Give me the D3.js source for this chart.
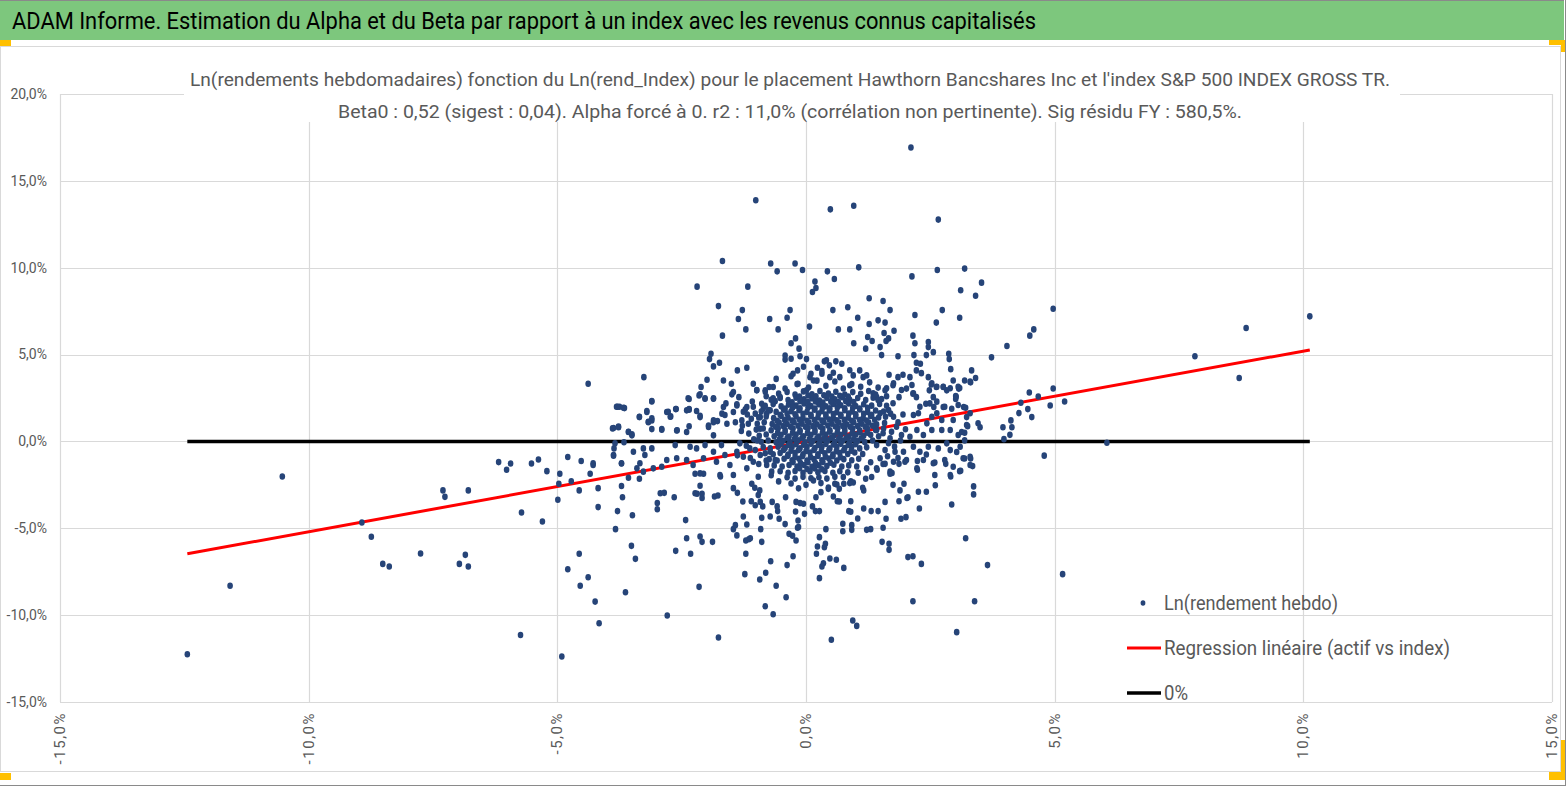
<!DOCTYPE html>
<html>
<head>
<meta charset="utf-8">
<script src="https://cdn.jsdelivr.net/npm/d3@7"></script>
<style>
html, body { margin: 0; padding: 0; background: #fff; overflow: hidden; }
text { font-family: "Liberation Sans Narrow", "Arial Narrow", "Roboto", sans-serif; }
</style>
</head>
<body>
<div id="chart"></div>
<script>
'use strict';

var titleText = 'ADAM Informe. Estimation du Alpha et du Beta par rapport à un index avec les revenus connus capitalisés';
var subtitleLines = [
  "Ln(rendements hebdomadaires) fonction du Ln(rend_Index) pour le placement Hawthorn Bancshares Inc et l'index S&P 500 INDEX GROSS TR.",
  'Beta0 : 0,52 (sigest : 0,04). Alpha forcé à 0. r2 : 11,0% (corrélation non pertinente). Sig résidu FY : 580,5%.'
];
var legendLabels = ['Ln(rendement hebdo)', 'Regression linéaire (actif vs index)', '0%'];
var beta = 0.52;
var xTicks = [-0.15, -0.10, -0.05, 0, 0.05, 0.10, 0.15];
var yTicks = [-0.15, -0.10, -0.05, 0, 0.05, 0.10, 0.15, 0.20];

// weekly log returns, [index %, asset %]
var tailPoints = [
  [-10.53,-2.02],[-11.58,-8.31],[-12.44,-12.25],[-8.93,-4.67],[-8.74,-5.49],[-8.51,-7.05],[-8.38,-7.20],[-7.75,-6.45],
  [-7.30,-2.82],[-7.26,-3.19],[-6.79,-2.82],[-6.97,-7.05],[-6.85,-6.53],[-6.79,-7.20],[-6.18,-1.19],[-6.02,-1.63],
  [-5.94,-1.27],[-5.52,-1.27],[-5.38,-1.04],[-5.21,-1.71],[-5.72,-4.09],[-5.30,-4.61],[-4.95,-1.86],[-4.97,-2.44],
  [-4.99,-3.36],[-4.79,-0.90],[-4.79,-7.36],[-5.74,-11.14],[-4.91,-12.38],
  [3.19,9.95],[3.11,8.70],[3.53,9.14],[3.41,8.39],[3.09,7.12],[4.97,7.64],[4.04,5.49],[4.50,6.09],[4.58,6.45],
  [3.73,4.84],[3.33,4.09],[3.19,3.51],[3.31,3.40],[3.41,3.65],[3.09,3.07],[7.82,4.90],[8.85,6.53],[10.13,7.20],
  [8.71,3.65],[6.05,-0.08],[4.49,2.82],[4.97,3.05],[4.67,2.59],[4.32,2.23],[5.20,2.30],[4.91,2.07],[4.46,1.86],
  [4.28,1.63],[4.54,1.40],[4.12,1.21],[4.14,0.82],[3.96,0.82],[4.10,0.38],[3.98,0.13],[4.79,-0.82],[3.46,1.05],
  [3.50,0.82],[3.25,0.88],[3.23,1.40],[3.17,1.98],[3.21,1.94],[3.13,0.54],[3.19,0.50],[3.19,0.06],[3.19,-0.98],
  [3.31,-0.98],[3.35,-1.42],[3.11,-1.69],[3.37,-2.59],[3.37,-3.05],[3.21,-5.57],[3.65,-7.12],[5.16,-7.64],[3.39,-9.20]
];

var lowerPoints = [
  [-4.52,-1.13],[-4.28,-1.36],[-4.34,-1.86],[-4.72,-2.29],[-4.56,-2.82],[-4.18,-2.69],[-4.18,-3.78],[-3.87,-0.82],
  [-3.71,-1.27],[-3.71,-2.57],[-3.69,-3.21],[-3.79,-4.01],[-3.83,-5.05],[-3.49,-4.25],[-3.57,-2.09],[-3.35,-2.15],
  [-3.51,-6.01],[-3.43,-6.76],[-4.56,-6.47],[-4.38,-7.82],[-4.54,-8.31],[-4.24,-9.22],[-4.16,-10.47],[-3.63,-8.68],
  [-2.79,-10.02],[-1.76,-11.29],[-2.15,-8.37],[-2.62,-6.30],[-2.32,-6.47],[-2.40,-5.57],[-2.13,-5.47],[-2.09,-5.78],
  [-1.88,-5.78],[-2.42,-4.53],[-2.99,-3.55],[-2.99,-3.90],[-2.93,-2.98],[-2.85,-2.96],[-2.65,-3.21],[-2.23,-2.98],
  [-2.19,-3.01],[-2.09,-3.26],[-2.09,-3.01],[-1.84,-3.17],[-1.77,-3.11],[-2.13,-2.55],[-2.23,-1.86],[-2.06,-1.86],
  [-1.72,-2.02],[-1.46,-2.69],[-1.38,-2.96],[-1.27,-3.46],[-1.46,-5.05],[-1.42,-4.82],[-1.39,-5.41],[-1.26,-4.32],
  [-1.19,-4.78],[-1.21,-5.70],[-1.21,-6.47],[-1.15,-5.63],[-1.12,-5.57],[-1.23,-7.64],[-0.93,-7.95],[-0.81,-7.56],
  [-0.82,-9.49],[-0.66,-9.95],[-0.71,-6.90],[-0.60,-8.31],[-0.40,-8.97],[-0.38,-7.12],[-0.26,-6.61],[-0.89,-5.78],
  [-0.91,-5.05],[-0.89,-4.40],[-0.72,-4.32],[-0.54,-4.45],[-0.42,-4.76],[-0.34,-5.32],[-0.27,-5.43],[-0.20,-5.70],
  [-0.17,-4.97],[-0.15,-4.93],[-0.16,-4.55],[-0.21,-4.03],[-0.03,-4.17],[-0.57,-4.01],[-0.68,-3.48],[-0.58,-3.74],
  [-1.02,-3.67],[-0.92,-3.48],[-0.87,-3.74],[-1.10,-3.44],[-0.96,-3.09],[-0.93,-2.82],[-1.03,-2.67],[-1.09,-2.44],
  [-0.41,-3.21],[-0.20,-3.48],[-0.12,-3.55],[-0.05,-3.59],[0.13,-3.74],[0.19,-4.01],[0.27,-4.01],[0.20,-3.21],
  [0.30,-2.92],[0.45,-2.73],[0.27,-5.51],[0.23,-6.05],[0.40,-5.05],[0.39,-5.89],[0.37,-6.09],[0.21,-6.47],
  [0.48,-6.74],[0.61,-6.81],[0.35,-7.01],[0.32,-7.20],[0.27,-7.87],[0.76,-7.28],[0.51,-11.42],[0.94,-10.31],
  [1.02,-10.62],[0.55,-3.17],[0.63,-3.44],[0.67,-3.46],[0.74,-4.74],[0.74,-5.17],[0.86,-4.01],[0.90,-4.05],
  [0.90,-3.44],[0.92,-5.09],[0.92,-4.82],[1.04,-4.44],[1.16,-3.86],[1.22,-5.09],[1.30,-5.05],[1.31,-4.01],
  [1.45,-4.01],[1.55,-4.97],[1.53,-5.78],[1.59,-3.48],[1.61,-4.45],[1.67,-5.89],[1.67,-6.24],[1.91,-4.45],
  [2.01,-4.36],[1.87,-3.44],[2.03,-3.26],[2.28,-3.86],[2.05,-6.66],[2.15,-6.61],[2.32,-7.05],[2.15,-9.20],
  [2.26,-2.90],[2.42,-2.90],[2.60,-2.52],[2.93,-3.63],[3.03,-10.98],[2.91,-2.02],[3.09,-1.71],[2.81,-1.29],
  [3.03,-0.61],[2.59,-1.21],[2.42,-0.75],[2.24,-1.63],[2.24,-1.13],[1.99,-1.17],[1.87,-1.29],[1.75,-2.50],
  [1.89,-2.82],[1.97,-2.44],[2.05,-3.21],[1.73,-1.82],[1.69,-1.86],[1.59,-1.29],[1.43,-1.63],[1.32,-2.05],
  [1.16,-2.82],[1.14,-2.67],[0.88,-2.40],[0.95,-2.36],[0.76,-2.44],[0.58,-2.44],[0.67,-2.73]
];

var upperPoints = [
  [2.11,16.92],[-1.01,13.88],[0.49,13.36],[0.96,13.57],[2.66,12.77],[-1.68,10.39],[-2.19,8.91],[-1.17,8.91],
  [-0.71,10.24],[-0.58,9.79],[-0.22,10.24],[-0.07,9.87],[0.43,9.79],[0.57,9.35],[1.06,10.02],[2.13,9.50],
  [2.64,9.87],[0.18,9.20],[0.20,8.83],[0.13,8.60],[-1.76,7.79],[-1.28,7.56],[-1.36,7.05],[-1.21,6.45],
  [-1.68,6.09],[-0.32,7.56],[-0.38,7.12],[-0.73,7.05],[-0.56,6.45],[0.07,6.61],[-0.30,5.65],[-0.21,5.93],
  [-0.14,5.34],[0.54,7.56],[0.84,7.72],[1.04,7.12],[0.65,6.45],[0.88,6.45],[0.96,5.65],[1.27,8.24],
  [1.55,8.08],[1.69,7.56],[1.45,6.97],[1.59,6.84],[1.27,6.76],[1.77,6.37],[1.57,6.24],[1.24,6.01],
  [1.33,5.78],[1.66,5.93],[1.61,5.78],[1.20,5.34],[1.49,5.43],[1.52,4.97],[1.85,4.90],[2.19,7.28],
  [2.74,7.56],[2.62,6.84],[2.15,6.09],[2.19,5.65],[2.46,5.72],[2.46,5.43],[2.17,4.97],[2.42,4.97],
  [2.56,5.14],[2.87,5.05],[2.88,4.74],[2.91,4.16],[2.22,4.53],[2.30,4.47],[2.22,4.09],[2.32,3.93],
  [2.46,3.70],[2.09,3.70],[1.95,3.84],[1.85,3.70],[1.67,3.84],[2.52,3.28],[2.62,3.13],[2.76,3.13],
  [2.96,3.51],[3.07,3.04],[2.83,2.94],[3.01,2.61],[3.01,2.44],[2.56,2.55],[2.41,2.17],[2.57,1.98],
  [2.76,1.98],[2.93,1.88],[2.48,2.94],[2.15,2.75],[2.22,2.55],[2.02,3.04],[1.75,3.23],[1.59,2.94],
  [1.42,2.55],[1.87,2.55],[1.08,4.09],[1.15,3.70],[0.95,3.80],[0.88,3.23],[0.72,4.47],[0.60,4.61],
  [0.41,4.67],[0.47,4.38],[0.37,4.61],[0.23,4.24],[0.32,3.90],[0.48,3.70],[0.68,3.70],[0.08,3.70],
  [0.01,4.74],[-0.12,4.90],[-0.17,4.09],[-0.26,3.90],[-0.42,4.71],[-0.42,4.95],[-0.30,4.76],[-0.16,3.32],
  [0.01,2.94],[0.15,3.51],[-0.66,3.13],[-0.82,2.94],[-0.74,3.13],[-1.06,3.32],[-0.99,2.94],[-1.19,4.24],
  [-1.38,4.09],[-1.46,2.84],[-1.50,3.32],[-1.66,3.51],[-1.74,4.53],[-1.86,4.32],[-1.91,5.05],[-1.94,4.74],
  [-1.99,3.55],[-2.11,3.13],[-2.15,2.65],[-2.03,2.46],[-1.86,2.46],[-2.35,2.44],[-2.35,1.83],[-2.40,1.79],
  [-2.62,1.86],[-2.80,1.69],[-2.72,1.44],[-3.10,2.30],[-3.26,3.70],[-3.20,1.69],[-3.35,1.40],[-3.17,1.11],
  [-3.10,1.21],[-3.65,1.92],[-3.79,2.00],[-3.75,2.00],[-3.87,0.77],[-3.77,0.82],[-3.57,0.54],[-3.50,0.35],
  [-4.38,3.32],[-2.90,0.67],[-2.60,0.63],[-2.40,0.54],[-2.13,1.40],[-1.96,0.92],[-1.86,1.21],[-1.66,1.98],
  [-1.69,1.60],[-1.46,1.69],[-1.39,2.07],[-1.19,1.98],[-1.29,1.21],[-1.16,1.02],[-1.02,1.60],[-0.89,2.17],
  [-0.92,0.73],[-0.86,1.88],[-0.79,1.60],[-0.72,1.79],[-0.52,2.55],[-0.62,2.32],[-1.59,1.02],[-1.86,0.35]
];

var leftPoints = [
  [-3.81,2.00],[-3.67,1.94],[-3.10,2.33],[-3.20,1.75],[-3.35,1.42],[-3.10,1.33],[-3.17,1.13],[-2.77,1.71],
  [-2.61,1.87],[-2.73,1.42],[-2.37,2.48],[-2.35,1.87],[-2.20,1.75],[-2.13,1.48],[-2.03,2.48],[-1.86,2.48],
  [-2.13,2.71],[-3.89,0.75],[-3.77,0.85],[-3.57,0.56],[-3.50,0.41],[-3.10,0.71],[-2.90,0.71],[-2.59,0.64],
  [-2.35,0.87],[-1.96,0.83],[-1.86,1.10],[-1.78,1.17],[-1.63,1.52],[-1.61,2.19],[-1.39,2.14],[-1.26,1.71],
  [-1.06,2.00],[-1.49,2.71],[-0.99,2.96],[-0.82,2.86],[-0.66,2.48],
  [-3.84,-0.11],[-3.86,-0.40],[-3.66,-0.05],[-3.87,-0.78],[-3.71,-1.26],[-3.47,-0.59],[-3.27,-0.40],[-3.24,-0.78],
  [-3.10,-0.40],[-3.34,-1.26],[-3.40,-1.55],[-3.27,-1.74],[-3.07,-1.55],[-2.90,-1.46],[-2.80,-1.07],[-2.63,-0.21],
  [-2.60,-0.97],[-2.40,-1.07],[-2.33,-0.31],[-2.20,-0.40],[-2.27,-1.36],[-2.13,-1.84],[-2.06,-0.97],[-2.03,-0.21],
  [-1.86,-0.59],[-1.80,-1.17],[-1.70,-0.21],[-1.63,-0.78],[-1.73,-1.93],[-1.53,-1.36],[-1.46,-1.93],[-1.39,-0.59],
  [-1.26,-0.88],[-1.33,-0.11],[-1.19,-1.55],[-1.06,-1.17],[-1.13,-0.40],[-0.92,-0.78],[-0.96,-2.03],[-0.79,-1.36],
  [-0.69,-1.74],[-0.72,-0.59],[-0.62,-1.07],[-4.28,-1.26]
];

var rightPoints = [
  [1.62,3.06],[1.76,3.34],[1.92,2.96],[2.13,3.25],[2.16,2.77],[2.53,3.34],[2.63,3.15],[2.76,3.15],
  [2.90,3.06],[3.06,3.15],[3.02,2.57],[3.30,3.44],[2.49,2.19],[2.63,2.29],[2.79,2.00],[3.06,2.10],
  [2.29,2.00],[2.26,1.62],[2.16,1.52],[2.53,1.42],[2.63,1.62],[2.73,1.23],[2.96,1.23],[3.30,1.62],
  [3.23,0.94],[2.90,0.66],[3.06,0.37],[2.73,0.66],[2.53,0.66],[2.43,1.04],[2.36,0.37],[2.23,0.66],
  [2.09,0.27],[1.92,0.37],[1.82,0.85],[1.76,1.42],[1.66,1.81],[1.49,1.62],[1.45,2.38],[1.35,2.77],
  [1.42,0.66],[1.55,0.47],[1.69,0.18],
  [1.42,-0.21],[1.59,-0.50],[1.79,-0.59],[1.96,-0.59],[2.16,-0.31],[2.29,-0.59],[2.46,-0.31],[2.66,-0.40],
  [2.90,-0.50],[3.10,-0.31],[3.30,-0.88],[3.16,-0.97],[2.79,-1.07],[2.96,-1.46],[2.56,-1.26],[2.36,-1.07],
  [2.23,-1.55],[2.02,-1.07],[1.76,-1.17],[1.49,-0.97],[1.42,-1.55],[1.69,-1.74],[2.90,-1.93],[3.30,-1.36],
  [2.59,-1.93],[2.83,-0.11]
];

var corePoints = [
  [-0.42,3.05],[-0.18,3.30],[0.05,3.10],[0.22,3.50],[0.40,3.20],[0.58,3.45],[0.75,3.05],[0.92,3.30],[1.10,3.15],
  [1.28,3.40],[1.45,3.10],[-0.60,3.60],[-0.30,3.75],[0.10,3.90],[0.55,3.95],[0.88,4.10],[1.22,3.80],[-0.05,4.30],[0.32,4.05],
  [-0.38,2.85],[-0.22,2.70],[-0.05,2.88],[0.12,2.72],[0.28,2.90],[0.45,2.76],[0.60,2.86],[0.78,2.70],
  [0.94,2.84],[1.10,2.74],[1.26,2.90],
  [-0.70,2.40],[-0.52,2.50],[-0.36,2.38],[-0.20,2.52],[-0.04,2.42],[0.12,2.48],[0.27,2.36],[0.42,2.50],[0.58,2.42],
  [0.73,2.55],[0.88,2.40],[1.04,2.50],[1.20,2.38],[1.35,2.52],
  [-0.66,2.15],[-0.50,2.02],[-0.35,2.12],[-0.20,2.06],[-0.04,2.18],[0.10,2.04],[0.26,2.14],[0.40,2.02],
  [0.55,2.16],[0.70,2.08],[0.86,2.18],[1.00,2.04],[1.16,2.14],[1.32,2.06],[1.48,2.16],
  [-0.90,1.72],[-0.75,1.80],[-0.60,1.70],[-0.45,1.82],[-0.30,1.74],[-0.14,1.80],[0.02,1.70],[0.17,1.82],[0.32,1.74],
  [0.47,1.78],[0.62,1.68],[0.78,1.80],[0.93,1.72],[1.08,1.84],[1.24,1.70],[1.40,1.78],
  [-0.80,1.44],[-0.65,1.34],[-0.50,1.46],[-0.36,1.36],[-0.20,1.44],[-0.06,1.35],[0.10,1.45],[0.24,1.38],
  [0.40,1.42],[0.55,1.33],[0.70,1.46],[0.85,1.37],[1.00,1.44],[1.15,1.34],[1.30,1.46],[1.46,1.38],[1.60,1.42],
  [-0.98,1.02],[-0.84,1.10],[-0.68,1.00],[-0.54,1.08],[-0.38,1.00],[-0.24,1.10],[-0.08,1.02],[0.06,1.08],[0.22,0.98],
  [0.36,1.10],[0.52,1.02],[0.66,1.08],[0.82,0.98],[0.96,1.10],[1.12,1.02],[1.26,1.08],[1.42,0.98],
  [-0.86,0.74],[-0.70,0.64],[-0.56,0.75],[-0.42,0.66],[-0.26,0.74],[-0.12,0.64],[0.04,0.76],[0.18,0.66],
  [0.34,0.72],[0.48,0.64],[0.64,0.76],[0.78,0.68],[0.94,0.74],[1.08,0.64],[1.24,0.72],[1.40,0.66],[1.56,0.74],
  [-0.94,0.32],[-0.80,0.40],[-0.64,0.30],[-0.50,0.38],[-0.34,0.28],[-0.20,0.40],[-0.05,0.30],[0.10,0.38],[0.26,0.28],
  [0.40,0.40],[0.56,0.32],[0.70,0.38],[0.86,0.28],[1.00,0.40],[1.16,0.32],[1.30,0.38],
  [-0.76,0.05],[-0.60,-0.05],[-0.46,0.04],[-0.32,-0.04],[-0.16,0.06],[-0.02,-0.05],[0.14,0.04],
  [0.28,-0.04],[0.44,0.06],[0.58,-0.03],[0.74,0.05],[0.88,-0.05],[1.04,0.04],[1.18,-0.04],[1.34,0.05],
  [-0.86,-0.32],[-0.72,-0.40],[-0.56,-0.30],[-0.42,-0.38],[-0.28,-0.30],[-0.12,-0.40],[0.02,-0.32],[0.18,-0.38],
  [0.32,-0.30],[0.48,-0.40],[0.62,-0.32],[0.78,-0.38],[0.92,-0.30],[1.08,-0.40],
  [-0.66,-0.74],[-0.52,-0.66],[-0.36,-0.76],[-0.22,-0.66],[-0.06,-0.74],[0.08,-0.64],[0.24,-0.74],
  [0.38,-0.68],[0.54,-0.76],[0.68,-0.66],[0.84,-0.72],[0.98,-0.64],[1.14,-0.72],
  [-0.74,-1.02],[-0.58,-1.10],[-0.44,-1.00],[-0.28,-1.08],[-0.14,-1.00],[0.02,-1.10],[0.16,-1.02],[0.32,-1.08],
  [0.46,-0.98],[0.62,-1.10],[0.76,-1.02],[0.92,-1.08],
  [-0.48,-1.44],[-0.34,-1.36],[-0.18,-1.44],[-0.04,-1.36],[0.12,-1.46],[0.26,-1.38],[0.42,-1.42],
  [0.56,-1.34],[0.72,-1.44],[0.86,-1.38],[1.02,-1.44],
  [-0.52,-1.72],[-0.36,-1.80],[-0.22,-1.70],[-0.06,-1.80],[0.08,-1.72],[0.24,-1.78],[0.38,-1.70],[0.54,-1.80],
  [0.68,-1.72],
  [-0.22,-2.14],[-0.06,-2.04],[0.10,-2.12],[0.26,-2.06],[0.42,-2.14],[0.58,-2.04],
  [-0.30,-2.42],[0.00,-2.50],[0.30,-2.40],[0.62,-2.48],[0.90,-2.30]
];

// the solid middle of the cloud, between the rows above
var coreFillPoints = [
  [-0.13,2.58],[0.04,2.64],[0.20,2.60],[0.36,2.66],[0.52,2.59],[0.68,2.63],[0.85,2.58],
  [-0.28,2.25],[-0.12,2.31],[0.04,2.27],[0.19,2.30],[0.34,2.24],[0.50,2.29],[0.65,2.26],[0.80,2.32],[0.96,2.27],
  [-0.42,1.89],[-0.27,1.94],[-0.12,1.90],[0.04,1.95],[0.18,1.89],[0.33,1.93],[0.48,1.90],[0.63,1.96],[0.78,1.91],
  [0.94,1.94],[1.08,1.89],[1.24,1.93],
  [-0.52,1.54],[-0.38,1.60],[-0.22,1.56],[-0.06,1.59],[0.10,1.54],[0.25,1.60],[0.40,1.55],[0.55,1.58],[0.70,1.54],
  [0.86,1.60],[1.00,1.56],[1.16,1.59],[1.32,1.54],
  [-0.58,1.19],[-0.43,1.24],[-0.28,1.20],[-0.13,1.25],[0.02,1.19],[0.17,1.23],[0.32,1.20],[0.47,1.26],[0.62,1.21],
  [0.77,1.24],[0.92,1.19],[1.08,1.23],[1.22,1.20],[1.38,1.25],
  [-0.61,0.84],[-0.46,0.89],[-0.31,0.85],[-0.16,0.90],[-0.01,0.84],[0.14,0.88],[0.29,0.85],[0.44,0.91],[0.59,0.86],
  [0.74,0.89],[0.89,0.84],[1.04,0.88],[1.19,0.85],[1.34,0.90],
  [-0.57,0.49],[-0.42,0.54],[-0.27,0.50],[-0.12,0.55],[0.03,0.49],[0.18,0.53],[0.33,0.50],[0.48,0.56],[0.63,0.51],
  [0.78,0.54],[0.93,0.49],[1.08,0.53],[1.23,0.50],
  [-0.53,0.14],[-0.38,0.19],[-0.23,0.15],[-0.08,0.20],[0.07,0.14],[0.22,0.18],[0.36,0.15],[0.51,0.21],[0.66,0.16],
  [0.81,0.19],[0.96,0.14],[1.11,0.18],
  [-0.50,-0.14],[-0.35,-0.20],[-0.20,-0.16],[-0.05,-0.19],[0.10,-0.14],[0.25,-0.20],[0.40,-0.15],[0.55,-0.18],
  [0.70,-0.14],[0.85,-0.20],[1.00,-0.16],
  [-0.45,-0.49],[-0.30,-0.54],[-0.15,-0.50],[0.00,-0.55],[0.16,-0.49],[0.31,-0.53],[0.46,-0.50],[0.61,-0.56],
  [0.76,-0.51],[0.91,-0.54],
  [-0.37,-0.84],[-0.22,-0.89],[-0.07,-0.85],[0.09,-0.90],[0.24,-0.84],[0.39,-0.88],[0.54,-0.85],[0.69,-0.91],
  [-0.26,-1.19],[-0.11,-1.24],[0.04,-1.20],[0.19,-1.25],[0.34,-1.19],[0.49,-1.23],
  [-0.13,-1.54],[0.02,-1.59],[0.17,-1.55],[0.32,-1.60]
];

// thinner fringe round the middle of the cloud
var fringePoints = [
  [-1.22,1.85],[-1.10,1.30],[-1.28,0.90],[-1.15,0.45],[-1.05,0.12],[-1.20,-0.25],[-1.02,-0.50],[-1.12,-0.95],
  [-0.95,-1.30],[-1.30,0.60],[-1.08,2.30],[-1.18,1.55],[-0.98,0.05],[-0.92,1.40],[-0.80,-1.10],
  [1.75,2.20],[1.70,1.60],[1.85,1.10],[1.72,0.55],[1.90,0.05],[1.78,-0.30],[1.64,-0.85],[1.85,-0.95],
  [1.55,-1.30],[1.95,1.55],[1.62,2.60],[2.00,0.70],[1.66,-0.10],[1.58,1.06],[1.46,0.30],[1.56,1.72],
  [1.62,2.05],[1.52,2.44],[1.40,2.70],[1.22,-0.34],[1.06,-1.00],
  [-0.55,-2.30],[-0.15,-2.70],[0.15,-2.25],[0.45,-2.65],[0.75,-2.05],[1.05,-1.80],[1.20,-2.15],[-0.70,-1.95],
  [1.30,-1.20],[1.22,-1.55],[-0.38,-2.06],[0.84,-1.78],[-0.64,-1.38],[-0.82,-0.68],[-0.90,-0.02],
  [-1.00,0.68],[-0.95,1.38],[-0.82,2.05],[-0.55,2.75],[-0.80,2.60],[-1.35,2.55],[-1.42,1.10],[-1.38,-0.80]
];

var points = [].concat(tailPoints, lowerPoints, upperPoints, leftPoints, rightPoints, corePoints, coreFillPoints, fringePoints)
  .map(function (p) { return { x: p[0] / 100, y: p[1] / 100 }; });

var width = 1567;
var height = 787;
var plot = { left: 60, right: 1552, top: 94, bottom: 702 };
var dotColor = '#264478';
var textColor = '#595959';
var gridColor = '#d9d9d9';

var fr = d3.formatLocale({ decimal: ',', thousands: ' ', grouping: [3], currency: ['', ' €'], minus: '-' });
var pct = fr.format('.1%');

var x = d3.scaleLinear().domain([-0.15, 0.15]).range([plot.left, plot.right]);
var y = d3.scaleLinear().domain([-0.15, 0.20]).range([plot.bottom, plot.top]);

var svg = d3.select('#chart').append('svg').attr('width', width).attr('height', height);

svg.append('rect').attr('width', width).attr('height', height).attr('fill', '#fff');

// header band
svg.append('rect').attr('x', 0).attr('y', 0).attr('width', 1564).attr('height', 40).attr('fill', '#7dc77d');
svg.append('line').attr('x1', 0).attr('x2', 1564).attr('y1', 0.5).attr('y2', 0.5).attr('stroke', '#8a8a8a');
svg.append('text').attr('x', 12).attr('y', 29).attr('font-size', 24).attr('fill', '#000')
  .attr('textLength', 1024).attr('lengthAdjust', 'spacingAndGlyphs').text(titleText);

// chart frame
svg.append('rect').attr('x', 0.5).attr('y', 46.5).attr('width', 1560).attr('height', 725)
  .attr('fill', 'none').attr('stroke', '#d9d9d9');
svg.append('line').attr('x1', 0).attr('x2', 1566).attr('y1', 785.5).attr('y2', 785.5).attr('stroke', '#8a8a8a');
svg.append('line').attr('x1', 1565.5).attr('x2', 1565.5).attr('y1', 0).attr('y2', 786).attr('stroke', '#8a8a8a');

// grid
var g = svg.append('g');
g.selectAll('line.vg').data(xTicks).enter().append('line').attr('class', 'vg')
  .attr('x1', function (d) { return Math.round(x(d)) + 0.5; })
  .attr('x2', function (d) { return Math.round(x(d)) + 0.5; })
  .attr('y1', plot.top).attr('y2', plot.bottom).attr('stroke', gridColor).attr('stroke-width', 1.2);
g.selectAll('line.hg').data(yTicks).enter().append('line').attr('class', 'hg')
  .attr('y1', function (d) { return Math.round(y(d)) + 0.5; })
  .attr('y2', function (d) { return Math.round(y(d)) + 0.5; })
  .attr('x1', plot.left).attr('x2', plot.right).attr('stroke', gridColor).attr('stroke-width', 1.2);

// y tick labels
g.selectAll('text.yl').data(yTicks).enter().append('text').attr('class', 'yl')
  .attr('x', 47).attr('y', function (d) { return y(d); }).attr('dy', '0.35em')
  .attr('text-anchor', 'end').attr('font-size', 14).attr('fill', textColor).text(function (d) { return pct(d); });

// x tick labels, rotated
g.selectAll('text.xl').data(xTicks).enter().append('text').attr('class', 'xl')
  .attr('transform', function (d) { return 'translate(' + (x(d) + 5) + ',712) rotate(-90)'; })
  .attr('text-anchor', 'end').attr('font-size', 15).attr('letter-spacing', 1.5)
  .attr('fill', textColor).text(function (d) { return pct(d); });

// subtitle box
svg.append('rect').attr('x', 184).attr('y', 62).attr('width', 1216).attr('height', 60).attr('fill', '#fff');
svg.selectAll('text.sub').data(subtitleLines).enter().append('text').attr('class', 'sub')
  .attr('x', 790).attr('y', function (d, i) { return 86 + i * 32; })
  .attr('text-anchor', 'middle').attr('font-size', 19).attr('fill', textColor)
  .attr('textLength', function (d, i) { return i === 0 ? 1200 : 904; })
  .attr('lengthAdjust', 'spacingAndGlyphs').text(function (d) { return d; });

// regression and zero lines over the index range
var xr = d3.extent(points, function (d) { return d.x; });
var line = d3.line().x(function (d) { return x(d[0]); }).y(function (d) { return y(d[1]); });
svg.append('path').attr('d', line(xr.map(function (v) { return [v, 0]; })))
  .attr('stroke', '#000').attr('stroke-width', 3.5).attr('fill', 'none');
svg.append('path').attr('d', line(xr.map(function (v) { return [v, beta * v]; })))
  .attr('stroke', '#ff0000').attr('stroke-width', 3).attr('fill', 'none');

// dots
svg.append('g').selectAll('ellipse').data(points).enter().append('ellipse')
  .attr('cx', function (d) { return x(d.x); }).attr('cy', function (d) { return y(d.y); })
  .attr('rx', 2.8).attr('ry', 3.3).attr('fill', dotColor);

// legend
var lg = svg.append('g');
lg.append('ellipse').attr('cx', 1143).attr('cy', 603).attr('rx', 2.4).attr('ry', 2.8).attr('fill', dotColor);
lg.append('line').attr('x1', 1127).attr('x2', 1161).attr('y1', 648).attr('y2', 648).attr('stroke', '#ff0000').attr('stroke-width', 3);
lg.append('line').attr('x1', 1127).attr('x2', 1161).attr('y1', 693).attr('y2', 693).attr('stroke', '#000').attr('stroke-width', 3.5);
lg.selectAll('text').data(legendLabels).enter().append('text')
  .attr('x', 1164).attr('y', function (d, i) { return 603 + i * 45; }).attr('dy', '0.35em')
  .attr('font-size', 20).attr('fill', textColor)
  .attr('textLength', function (d, i) { return [174, 286, 24][i]; })
  .attr('lengthAdjust', 'spacingAndGlyphs').text(function (d) { return d; });

// selection handles
svg.append('rect').attr('x', 0).attr('y', 40).attr('width', 11).attr('height', 6).attr('fill', '#ffc000');
svg.append('rect').attr('x', 1549).attr('y', 40).attr('width', 16).attr('height', 5).attr('fill', '#ffc000');
svg.append('rect').attr('x', 1561).attr('y', 40).attr('width', 4).attr('height', 12).attr('fill', '#ffc000');
svg.append('rect').attr('x', 0).attr('y', 773).attr('width', 11).attr('height', 7).attr('fill', '#ffc000');
svg.append('rect').attr('x', 1561).attr('y', 740).attr('width', 4).attr('height', 40).attr('fill', '#ffc000');
svg.append('rect').attr('x', 1549).attr('y', 772).attr('width', 16).attr('height', 8).attr('fill', '#ffc000');
</script>
</body>
</html>
